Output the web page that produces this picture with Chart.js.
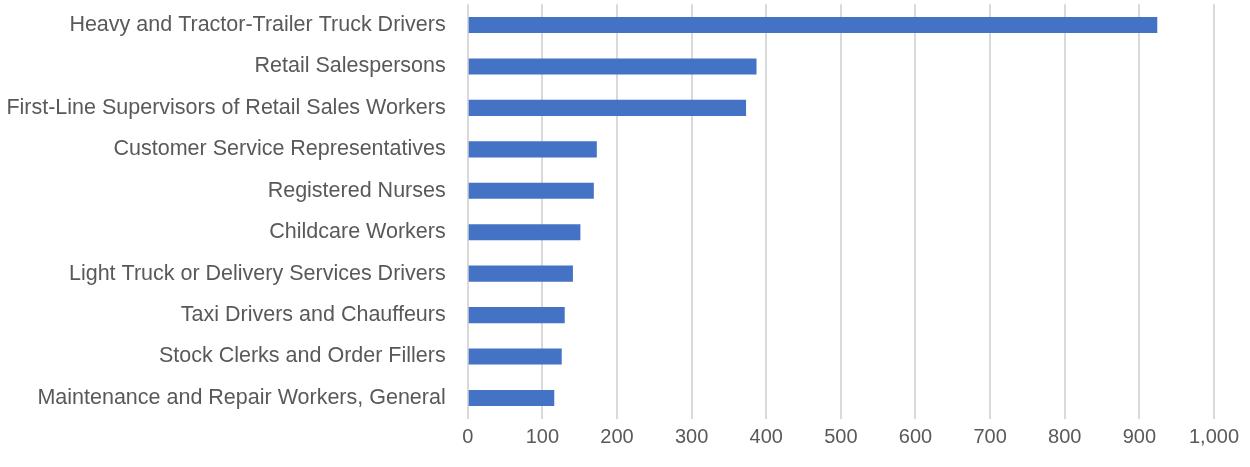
<!DOCTYPE html>
<html><head><meta charset="utf-8">
<script src="https://cdn.jsdelivr.net/npm/chart.js@4/dist/chart.umd.min.js"></script>
<style>html,body{margin:0;padding:0;background:#fff}</style>
</head><body>
<canvas id="c" width="1250" height="467"></canvas>
<script>
const categories = [
  "Heavy and Tractor-Trailer Truck Drivers",
  "Retail Salespersons",
  "First-Line Supervisors of Retail Sales Workers",
  "Customer Service Representatives",
  "Registered Nurses",
  "Childcare Workers",
  "Light Truck or Delivery Services Drivers",
  "Taxi Drivers and Chauffeurs",
  "Stock Clerks and Order Fillers",
  "Maintenance and Repair Workers, General"
];
const values = [924, 387, 373, 173, 169, 151, 141, 130, 126, 116];
const xTicks = [0,100,200,300,400,500,600,700,800,900,1000];

new Chart(document.getElementById('c'), {
  type: 'bar',
  data: { labels: categories, datasets: [{ data: values, backgroundColor: '#4472C4', barPercentage: 0.78, categoryPercentage: 0.5 }] },
  options: {
    indexAxis: 'y', responsive: false, animation: false, maintainAspectRatio: false,
    layout: { autoPadding: false, padding: { top: 4.3, right: 36, bottom: 0, left: 0 } },
    plugins: { legend: { display: false }, title: { display: false }, tooltip: { enabled: false } },
    scales: {
      x: {
        min: 0, max: 1000,
        afterBuildTicks: s => { s.ticks = xTicks.map(v => ({ value: v })); },
        ticks: { color: '#595959', font: { family: 'Liberation Sans', size: 20 }, padding: 7, maxRotation: 0,
          callback: v => v.toLocaleString('en-US') },
        grid: { color: '#d9d9d9', lineWidth: 2, drawTicks: false },
        border: { display: false },
        afterFit: s => { s.height = 48.3; s.paddingLeft = 0; s.paddingRight = 0; }
      },
      y: {
        ticks: { color: '#595959', font: { family: 'Liberation Sans', size: 21.5 }, padding: 22, autoSkip: false },
        grid: { display: false, drawTicks: false },
        border: { display: false },
        afterFit: s => { s.width = 467.7; s.paddingTop = 0; s.paddingBottom = 0; }
      }
    }
  }
});
</script>
</body></html>
